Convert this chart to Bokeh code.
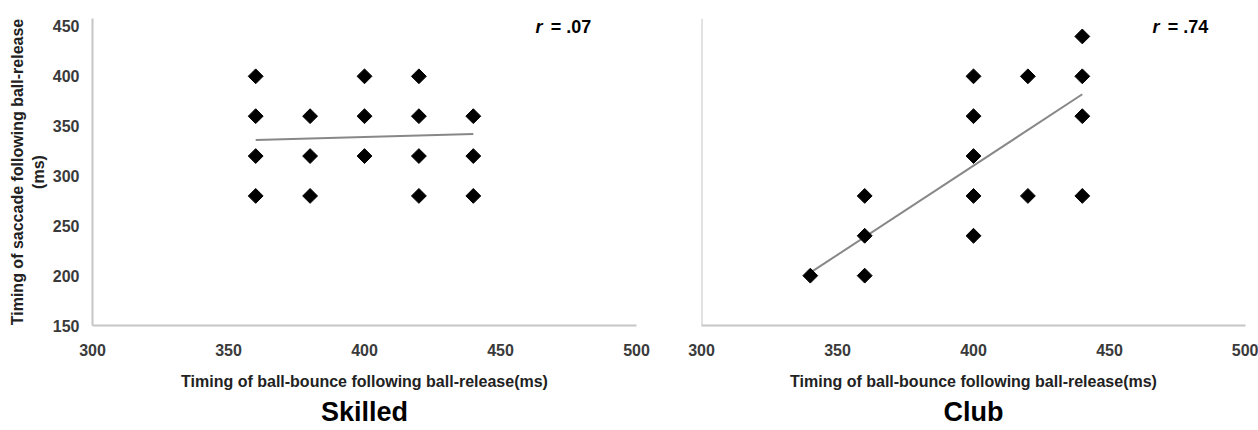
import math
from bokeh.plotting import figure
from bokeh.layouts import row
from bokeh.models import Range1d, Label, Span, FixedTicker, Title
from bokeh.embed import file_html
from bokeh.resources import INLINE

FONT = "Liberation Sans"

x_ticks = [300, 350, 400, 450, 500]
y_ticks = [150, 200, 250, 300, 350, 400, 450]
x_title = "Timing of ball-bounce following ball-release(ms)"
y_title = "Timing of saccade following ball-release\n(ms)"

skilled_x = [360, 360, 360, 360, 380, 380, 380, 400, 400, 400, 420, 420, 420, 420, 440, 440, 440]
skilled_y = [400, 360, 320, 280, 360, 320, 280, 400, 360, 320, 400, 360, 320, 280, 360, 320, 280]
skilled_fit_x = [360, 440]
skilled_fit_y = [336, 342]
skilled_r = "= .07"

club_x = [340, 360, 360, 360, 400, 400, 400, 400, 400, 420, 420, 440, 440, 440, 440]
club_y = [200, 280, 240, 200, 400, 360, 320, 280, 240, 400, 280, 440, 400, 360, 280]
club_fit_x = [340, 440]
club_fit_y = [203, 382]
club_r = "= .74"

AXIS_COLOR = "#c6c6c6"
TICK_COLOR = "#3a3a3a"


def make_panel(xs, ys, fx, fy, r_text, name, width, bl, br, show_y, r_x):
    p = figure(width=width, height=430, title=None,
               x_range=Range1d(300, 500), y_range=Range1d(150, 458),
               output_backend="svg", toolbar_location=None,
               min_border_left=bl, min_border_right=br,
               min_border_top=18, min_border_bottom=105)
    p.grid.visible = False
    p.outline_line_color = None
    p.background_fill_color = "white"
    p.border_fill_color = "white"

    xa = p.xaxis[0]
    xa.ticker = FixedTicker(ticks=x_ticks)
    xa.axis_line_color = AXIS_COLOR
    xa.axis_line_width = 2
    xa.major_tick_line_color = None
    xa.minor_tick_line_color = None
    xa.major_label_standoff = 12
    xa.major_label_text_font = FONT
    xa.major_label_text_font_style = "bold"
    xa.major_label_text_font_size = "16px"
    xa.major_label_text_color = TICK_COLOR
    xa.axis_label = x_title
    xa.axis_label_standoff = 14
    xa.axis_label_text_font = FONT
    xa.axis_label_text_font_style = "bold"
    xa.axis_label_text_font_size = "16px"
    xa.axis_label_text_color = "#222222"

    ya = p.yaxis[0]
    if show_y:
        ya.ticker = FixedTicker(ticks=y_ticks)
        ya.axis_line_color = AXIS_COLOR
        ya.axis_line_width = 2
        ya.major_tick_line_color = None
        ya.minor_tick_line_color = None
        ya.major_label_standoff = 7
        ya.major_label_text_font = FONT
        ya.major_label_text_font_style = "bold"
        ya.major_label_text_font_size = "16px"
        ya.major_label_text_color = TICK_COLOR
        ya.axis_label = y_title
        ya.axis_label_standoff = 3
        ya.axis_label_text_font = FONT
        ya.axis_label_text_font_style = "bold"
        ya.axis_label_text_font_size = "16px"
        ya.axis_label_text_color = "#222222"
        ya.axis_label_text_line_height = 1.2
    else:
        ya.visible = False
        p.add_layout(Span(location=300, dimension="height",
                          line_color=AXIS_COLOR, line_width=2))

    p.line(fx, fy, line_color="#888888", line_width=2)
    p.scatter(xs, ys, marker="square", size=10.5, angle=math.pi / 4,
              fill_color="black", line_color="black")

    p.add_layout(Label(x=r_x, y=449, text="r", text_font=FONT,
                       text_font_style="bold italic", text_font_size="18px",
                       text_baseline="middle", text_align="left", text_color="black"))
    p.add_layout(Label(x=r_x + 5.6, y=449, text=r_text, text_font=FONT,
                       text_font_style="bold", text_font_size="18px",
                       text_baseline="middle", text_align="left", text_color="black"))
    p.add_layout(Title(text=name, align="center", text_font=FONT,
                       text_font_style="bold", text_font_size="27px",
                       text_color="black", standoff=5), "below")
    return p


left = make_panel(skilled_x, skilled_y, skilled_fit_x, skilled_fit_y, skilled_r,
                  "Skilled", 680, 92, 44, True, 462.9)
right = make_panel(club_x, club_y, club_fit_x, club_fit_y, club_r,
                   "Club", 578, 21, 13, False, 465.8)

layout = row(left, right)
open("out.html", "w").write(file_html(layout, INLINE))
